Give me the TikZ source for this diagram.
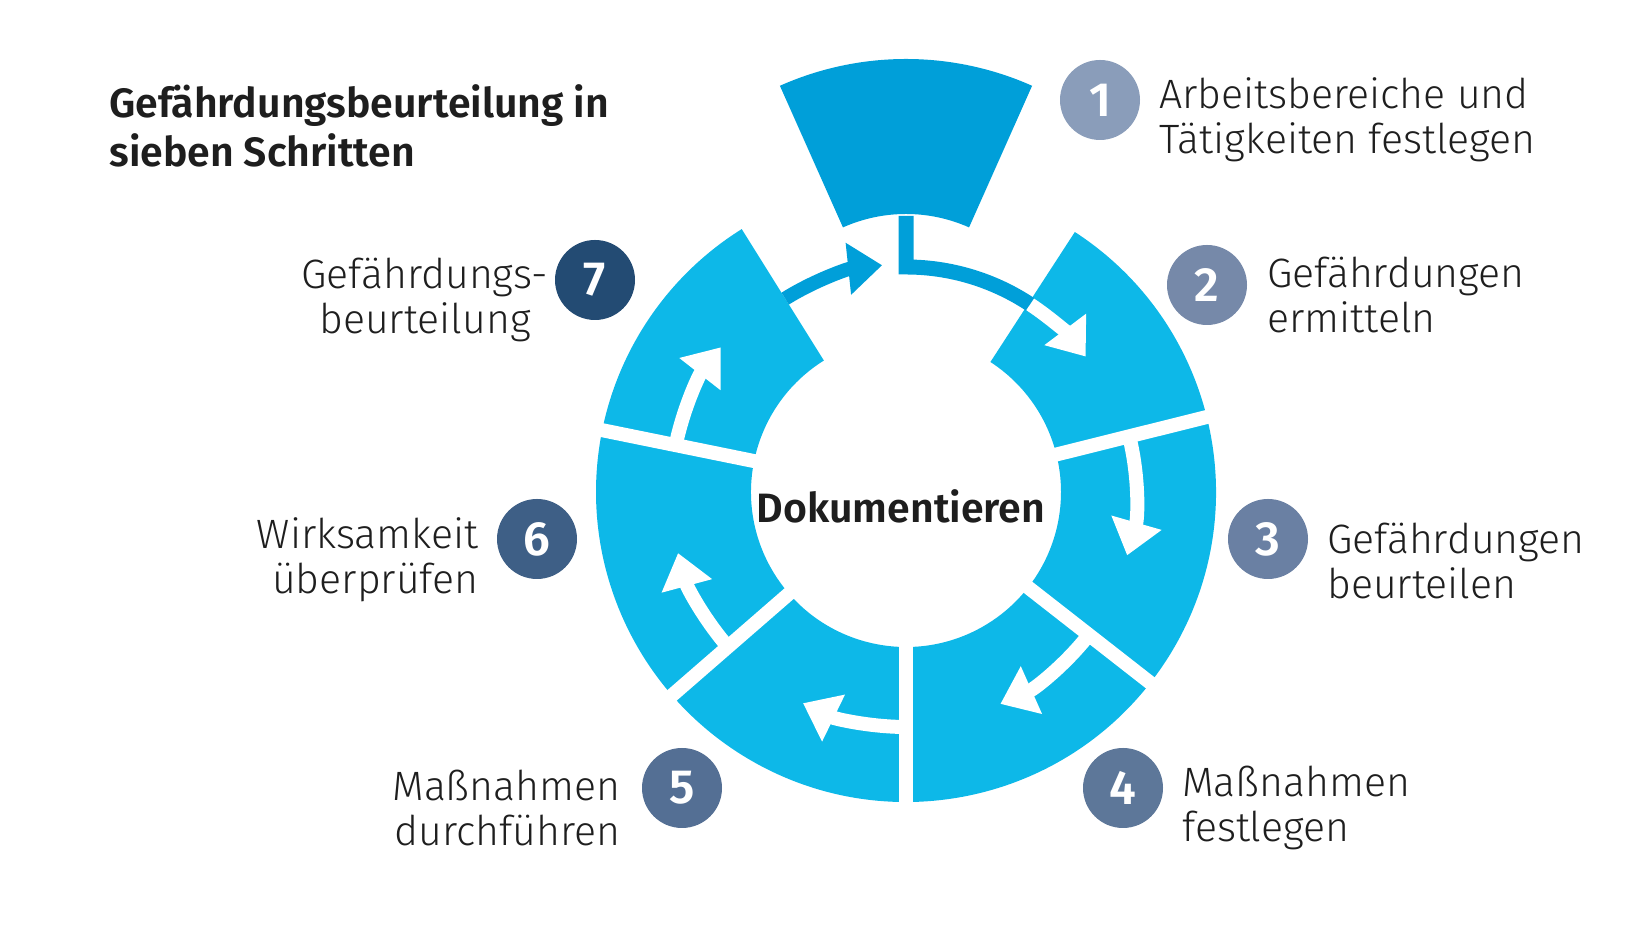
\documentclass[tikz,border=0pt]{standalone}
\usepackage{fontspec}
\setmainfont{Fira Sans}[UprightFont=* Light, BoldFont=* SemiBold]
\usetikzlibrary{arrows.meta}
\definecolor{ringblue}{HTML}{0DB8E8}
\definecolor{topblue}{HTML}{009FD9}
\definecolor{txt}{HTML}{1E1E1E}
\definecolor{cA}{HTML}{8A9DBA}
\definecolor{cB}{HTML}{7689A9}
\definecolor{cC}{HTML}{6A80A3}
\definecolor{cD}{HTML}{5D7799}
\definecolor{cE}{HTML}{546F94}
\definecolor{cF}{HTML}{3E5F86}
\definecolor{cG}{HTML}{234B73}
\newcommand\ringpart[3][ringblue]{%
  \fill[#1] (#2:155) arc[start angle=#2, end angle=#3, radius=155]
    -- (#3:310) arc[start angle=#3, end angle=#2, radius=310] -- cycle;}
\tikzset{
  num/.style={circle, fill=#1, minimum size=40pt, inner sep=0pt,
    text=white, font=\fontsize{24}{24}\selectfont\bfseries},
  steptext/.style={font=\fontsize{20.5}{22.5}\selectfont, text=txt, inner sep=0pt},
  gap/.style={white, line width=7pt},
  turn/.style={white, line width=7pt, -{Triangle[length=17pt, width=25pt]}},
  turnblue/.style={turn, topblue}
}
\begin{document}
\begin{tikzpicture}[x=0.5pt, y=0.5pt]
  \useasboundingbox (0,0) rectangle (1639,940);

  %%% ring %%%
  \begin{scope}[shift={(906,448)}]
    \ringpart{-238}{57}
    \begin{scope}[shift={(0,123)}]
      \ringpart[topblue]{66}{114}
    \end{scope}
    \draw[gap] (14:150) -- (14:320);
    \draw[gap] (-38:150) -- (-38:320);
    \draw[gap] (-90:150) -- (-90:320);
    \draw[gap] (-139:150) -- (-139:320);
    \draw[gap] (168.5:150) -- (168.5:320);

    % arrows
    \draw[turn] (14:230) arc[start angle=14, end angle=-16, radius=230];
    \draw[turn] (-38:232) arc[start angle=-38, end angle=-66, radius=232];
    \draw[turn] (-90:235) arc[start angle=-90, end angle=-116, radius=235];
    \draw[turn] (-139:236) arc[start angle=-139, end angle=-165, radius=236];
    \draw[turn] (168.5:235) arc[start angle=168.5, end angle=142, radius=235];
    \draw[turnblue] (122:228) arc[start angle=122, end angle=96, radius=228];
    \draw[topblue, line width=7.5pt] (0,276) -- (90:225)
      arc[start angle=90, end angle=56.5, radius=225];
    \draw[turn] (56.5:225) arc[start angle=56.5, end angle=37, radius=225];
  \end{scope}

  \node (doku) at (901,434) [font=\fontsize{20.5}{22.5}\selectfont\bfseries, text=txt] {Dokumentieren};

  %%% title %%%
  \node (title) at (109,814) [anchor=west, steptext, align=left, font=\fontsize{20.5}{24.5}\selectfont\bfseries]
    {Gefährdungsbeurteilung in\\sieben Schritten};

  %%% steps %%%
  \node (n1) at (1100,840) [num=cA] {1};
  \node (n2) at (1207,655) [num=cB] {2};
  \node (n3) at (1268,401) [num=cC] {3};
  \node (n4) at (1123,152) [num=cD] {4};
  \node (n5) at (682,152) [num=cE] {5};
  \node (n6) at (537,401) [num=cF] {6};
  \node (n7) at (595,660) [num=cG] {7};

  \node (t1) at (1159,820) [steptext, anchor=west, align=left] {Arbeitsbereiche und\\Tätigkeiten festlegen};
  \node (t2) at (1267,645) [steptext, anchor=west, align=left] {Gefährdungen\\ermitteln};
  \node (t3) at (1327,379) [steptext, anchor=west, align=left] {Gefährdungen\\beurteilen};
  \node (t4) at (1182,132) [steptext, anchor=west, align=left] {Maßnahmen\\festlegen};
  \node (t5) at (621,132) [steptext, anchor=east, align=right] {Maßnahmen\\durchführen};
  \node (t6) at (479,380) [steptext, anchor=east, align=right] {Wirksamkeit\\überprüfen};
  \node (t7) at (425,640) [steptext, align=center] {Gefährdungs-\\beurteilung};

\end{tikzpicture}
\end{document}
